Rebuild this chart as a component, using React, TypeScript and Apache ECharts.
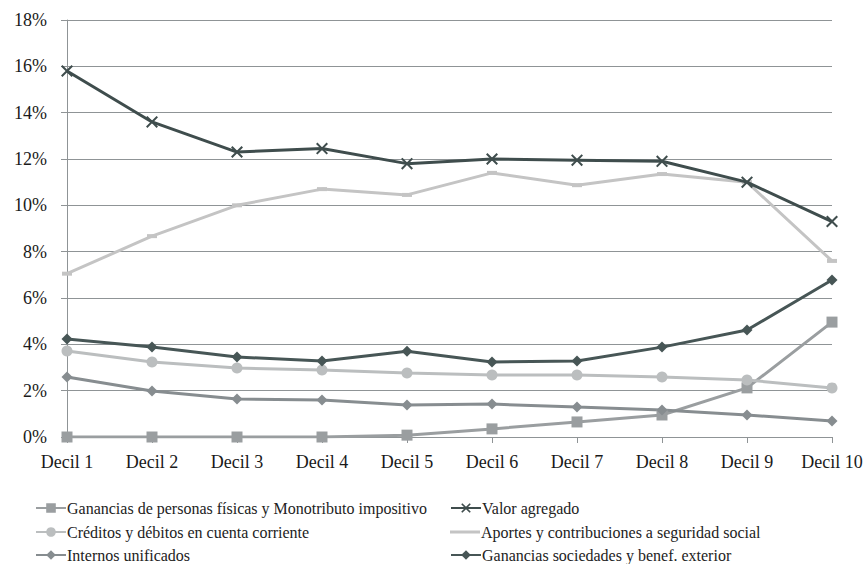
import React, { useEffect, useRef } from "react";
import * as echarts from "echarts";

const categories = ["Decil 1", "Decil 2", "Decil 3", "Decil 4", "Decil 5", "Decil 6", "Decil 7", "Decil 8", "Decil 9", "Decil 10"];

const gananciasPersonas = [0, 0, 0, 0, 0.08, 0.35, 0.65, 0.95, 2.12, 4.96];
const valorAgregado = [15.8, 13.6, 12.3, 12.45, 11.8, 12.0, 11.95, 11.9, 11.0, 9.3];
const creditosDebitos = [3.71, 3.24, 2.98, 2.89, 2.76, 2.68, 2.68, 2.59, 2.46, 2.12];
const aportes = [7.05, 8.67, 10.0, 10.7, 10.45, 11.4, 10.87, 11.35, 11.0, 7.6];
const internos = [2.59, 1.99, 1.64, 1.6, 1.38, 1.42, 1.29, 1.17, 0.95, 0.69];
const gananciasSociedades = [4.23, 3.88, 3.45, 3.28, 3.7, 3.24, 3.28, 3.88, 4.62, 6.78];

const names = {
  gp: "Ganancias de personas físicas y Monotributo impositivo",
  va: "Valor agregado",
  cd: "Créditos y débitos en cuenta corriente",
  ap: "Aportes y contribuciones a seguridad social",
  iu: "Internos unificados",
  gs: "Ganancias sociedades y benef. exterior",
};

const FONT = "serif";
const CROSS = "path://M0,1.2L1.2,0L5,3.8L8.8,0L10,1.2L6.2,5L10,8.8L8.8,10L5,6.2L1.2,10L0,8.8L3.8,5Z";
const PLAIN_LINE = "path://M0,0H0.01V0.01H0Z M0,4.5H30V7.5H0Z M29.99,11.99H30V12H29.99Z";

export default function App() {
  const ref = useRef<HTMLDivElement>(null);
  useEffect(() => {
    if (!ref.current) return;
    const chart = echarts.init(ref.current, null, { renderer: "svg" });
    const mk = (name: string, data: number[], color: string, symbol: string, size: any, z = 2) => ({
      name,
      type: "line",
      data,
      symbol,
      symbolSize: size,
      showSymbol: true,
      lineStyle: { color, width: 3 },
      itemStyle: { color },
      z,
    });
    const legendItem = (item: any, left: number, top: number) => ({
      orient: "horizontal",
      left,
      top,
      padding: 0,
      itemWidth: 30,
      itemHeight: 12,
      textStyle: { fontFamily: FONT, fontSize: 16, color: "#222", padding: [0, 0, 0, -4] },
      data: [item],
    });
    chart.setOption({
      animation: false,
      backgroundColor: "#ffffff",
      textStyle: { fontFamily: FONT },
      grid: { left: 67, right: 35, top: 20, bottom: 127 },
      legend: [
        legendItem(names.gp, 35, 500),
        legendItem(names.cd, 35, 524),
        legendItem(names.iu, 35, 547),
        legendItem(names.va, 450, 500),
        legendItem({ name: names.ap, icon: PLAIN_LINE }, 450, 524),
        legendItem(names.gs, 450, 547),
      ],
      xAxis: {
        type: "category",
        data: categories,
        boundaryGap: false,
        axisLine: { show: true, lineStyle: { color: "#8f9496", width: 1 } },
        axisTick: { show: true, length: 6, alignWithLabel: true, interval: 0, lineStyle: { color: "#8f9496" } },
        axisLabel: { fontFamily: FONT, fontSize: 18, color: "#1a1a1a", margin: 16, interval: 0 },
      },
      yAxis: {
        type: "value",
        min: 0,
        max: 18,
        interval: 2,
        axisLine: { show: true, lineStyle: { color: "#8f9496", width: 1 } },
        axisTick: { show: true, length: 6, lineStyle: { color: "#8f9496" } },
        splitLine: { show: true, lineStyle: { color: "#8f9496", width: 1 } },
        axisLabel: {
          fontFamily: FONT,
          fontSize: 18,
          color: "#1a1a1a",
          margin: 20,
          formatter: (v: number) => `${v}%`,
        },
      },
      series: [
        mk(names.gp, gananciasPersonas, "#9a9ea0", "rect", 11, 3),
        mk(names.va, valorAgregado, "#3f4d4d", CROSS, 12, 6),
        mk(names.cd, creditosDebitos, "#bbbebf", "circle", 11, 4),
        mk(names.ap, aportes, "#c4c4c4", "rect", [10, 4], 2),
        mk(names.iu, internos, "#878d90", "diamond", 11, 3),
        mk(names.gs, gananciasSociedades, "#475656", "diamond", 11, 5),
      ],
    });
    return () => chart.dispose();
  }, []);
  return <div ref={ref} style={{ width: 867, height: 564, position: "absolute", left: 0, top: 0 }} />;
}
